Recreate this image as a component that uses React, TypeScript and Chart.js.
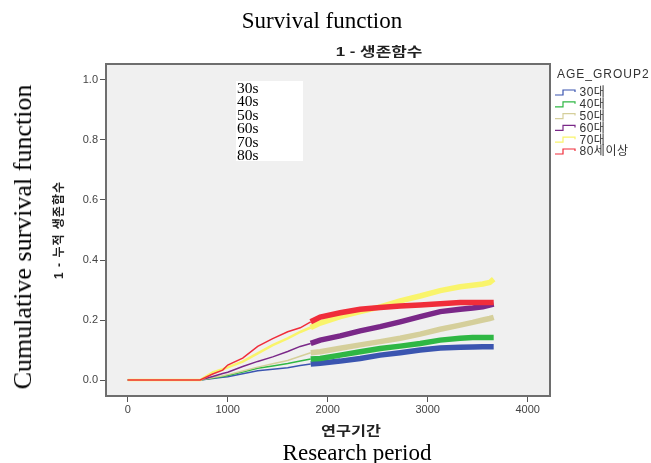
import React, { useEffect, useRef } from "react";
import { Chart, registerables } from "chart.js";

Chart.register(...registerables);

// Research period (days) at which the curves were read
const times = [0, 725, 850, 950, 1000, 1150, 1300, 1450, 1600, 1725, 1830, 1925, 2125, 2325, 2525, 2725, 2925, 3125, 3325, 3450, 3550, 3620, 3660];

// 1 - cumulative survival per age group
const age30 = [0, 0, 0.005, 0.009, 0.011, 0.021, 0.031, 0.036, 0.041, 0.048, 0.053, 0.056, 0.063, 0.072, 0.083, 0.091, 0.1, 0.107, 0.109, 0.11, 0.111, 0.111, 0.111];
const age40 = [0, 0, 0.007, 0.012, 0.015, 0.027, 0.039, 0.047, 0.055, 0.063, 0.07, 0.072, 0.083, 0.094, 0.105, 0.113, 0.122, 0.133, 0.139, 0.142, 0.142, 0.142, 0.142];
const age50 = [0, 0, 0.008, 0.014, 0.018, 0.03, 0.043, 0.054, 0.065, 0.079, 0.091, 0.094, 0.106, 0.117, 0.128, 0.139, 0.153, 0.169, 0.183, 0.192, 0.2, 0.205, 0.209];
const age60 = [0, 0, 0.012, 0.022, 0.026, 0.045, 0.062, 0.077, 0.095, 0.112, 0.122, 0.133, 0.147, 0.164, 0.178, 0.194, 0.211, 0.228, 0.236, 0.24, 0.244, 0.25, 0.253];
const age70 = [0, 0, 0.025, 0.036, 0.042, 0.061, 0.089, 0.116, 0.139, 0.16, 0.175, 0.19, 0.211, 0.228, 0.244, 0.264, 0.28, 0.298, 0.311, 0.316, 0.32, 0.325, 0.336];
const age80 = [0, 0, 0.02, 0.033, 0.05, 0.073, 0.112, 0.138, 0.161, 0.174, 0.194, 0.21, 0.224, 0.236, 0.242, 0.247, 0.25, 0.254, 0.258, 0.258, 0.258, 0.258, 0.258];

const groupLabels = ["30대", "40대", "50대", "60대", "70대", "80세이상"];
const groupColors = ["#3b55b0", "#2fb744", "#d5cf9b", "#7a2888", "#f9f46b", "#f02d3a"];
const seriesList = [age30, age40, age50, age60, age70, age80];

const xTicks = [0, 1000, 2000, 3000, 4000];
const yTicks = [0, 0.2, 0.4, 0.6, 0.8, 1.0];
const overlayLabels = ["30s", "40s", "50s", "60s", "70s", "80s"];

const censorStart = 1830;
const SANS = '"Liberation Sans", Arial, "Noto Sans CJK KR", sans-serif';
const SERIF = '"Liberation Serif", "Times New Roman", serif';

function stretchedText(ctx: any, text: string, x: number, y: number, sx: number) {
  ctx.save();
  ctx.translate(x, y);
  ctx.scale(sx, 1);
  ctx.fillText(text, 0, 0);
  ctx.restore();
}

const framePlugin = {
  id: "frame",
  beforeDraw(chart: any) {
    const { ctx, chartArea: a } = chart;
    ctx.save();
    ctx.fillStyle = "#f0f0f0";
    ctx.fillRect(a.left, a.top, a.right - a.left, a.bottom - a.top);
    ctx.restore();
  },
  afterDraw(chart: any) {
    const { ctx, chartArea: a } = chart;
    ctx.save();
    ctx.strokeStyle = "#6e6e6e";
    ctx.lineWidth = 2;
    ctx.strokeRect(a.left, a.top, a.right - a.left, a.bottom - a.top);

    ctx.fillStyle = "#222";
    ctx.textAlign = "center";
    ctx.textBaseline = "middle";
    ctx.font = `bold 13px ${SANS}`;
    stretchedText(ctx, "1 - 생존함수", 379, 52, 1.3);
    stretchedText(ctx, "연구기간", 351, 431, 1.25);

    ctx.save();
    ctx.translate(60, 230);
    ctx.rotate(-Math.PI / 2);
    ctx.font = `bold 12px ${SANS}`;
    (ctx as any).letterSpacing = "1px";
    ctx.fillText("1 - 누적 생존함수", 0, 0);
    ctx.restore();

    // legend
    ctx.textAlign = "left";
    ctx.fillStyle = "#333";
    ctx.font = `12px ${SANS}`;
    (ctx as any).letterSpacing = "1px";
    ctx.fillText("AGE_GROUP2", 557, 75);
    groupLabels.forEach((lab, i) => {
      const y = 93 + i * 11.8;
      ctx.strokeStyle = groupColors[i];
      ctx.lineWidth = 1.2;
      ctx.beginPath();
      ctx.moveTo(555, y + 2);
      ctx.lineTo(563, y + 2);
      ctx.lineTo(563, y - 3);
      ctx.lineTo(575, y - 3);
      ctx.lineTo(575, y - 1);
      ctx.stroke();
      ctx.fillStyle = "#333";
      (ctx as any).letterSpacing = "0.5px";
      ctx.font = `12px ${SANS}`;
      ctx.fillText(lab, 579.5, y);
    });
    ctx.restore();
  },
};

export default function App() {
  const ref = useRef<HTMLCanvasElement>(null);
  useEffect(() => {
    if (!ref.current) return;
    const datasets = seriesList.map((vals, i) => {
      const thin = i === 4 ? 2.5 : 1.5;
      return {
        label: groupLabels[i],
        data: times.map((t, j) => ({ x: t, y: vals[j] })),
        borderColor: groupColors[i],
        backgroundColor: groupColors[i],
        borderWidth: thin,
        pointRadius: 0,
        tension: 0,
        fill: false,
        order: 5 - i,
        segment: {
          borderWidth: (c: any) => (c.p0.parsed.x >= censorStart ? 5.5 : thin),
        },
      };
    });
    const tickFont = { family: SANS, size: 11 };
    const chart = new Chart(ref.current, {
      type: "line",
      data: { datasets },
      plugins: [framePlugin],
      options: {
        responsive: false,
        animation: false,
        events: [],
        layout: { padding: { top: 64, right: 101, left: 0, bottom: 0 } },
        plugins: { legend: { display: false }, tooltip: { enabled: false }, title: { display: false } },
        scales: {
          x: {
            type: "linear",
            min: -217,
            max: 4223,
            afterFit: (s: any) => { s.height = 67; },
            afterBuildTicks: (s: any) => { s.ticks = xTicks.map((v) => ({ value: v })); },
            border: { display: false },
            grid: { display: true, drawOnChartArea: false, drawTicks: true, tickLength: 6, color: "#555", tickColor: "#555" },
            ticks: { font: tickFont, color: "#444", padding: 1, maxRotation: 0, autoSkip: false, callback: (v: any) => String(v) },
          },
          y: {
            type: "linear",
            min: -0.0533,
            max: 1.0533,
            afterFit: (s: any) => { s.width = 106; },
            afterBuildTicks: (s: any) => { s.ticks = yTicks.map((v) => ({ value: v })); },
            border: { display: false },
            grid: { display: true, drawOnChartArea: false, drawTicks: true, tickLength: 6, color: "#555", tickColor: "#555" },
            ticks: { font: tickFont, color: "#444", padding: 2, autoSkip: false, callback: (v: any) => Number(v).toFixed(1) },
          },
        },
      },
    } as any);
    return () => chart.destroy();
  }, []);

  const abs: React.CSSProperties = { position: "absolute", fontFamily: SERIF, color: "#000", whiteSpace: "nowrap", lineHeight: 1 };
  return (
    <div style={{ position: "fixed", left: 0, top: 0, width: 651, height: 463, background: "#fff", overflow: "hidden" }}>
      <canvas ref={ref} width={651} height={463} style={{ position: "absolute", left: 0, top: 0, width: 651, height: 463 }} />
      <div style={{ ...abs, left: 322, top: 20, fontSize: 23, transform: "translate(-50%, -50%)" }}>Survival function</div>
      <div style={{ ...abs, left: 357, top: 452, fontSize: 23, transform: "translate(-50%, -50%)" }}>Research period</div>
      <div style={{ ...abs, left: 23, top: 237, fontSize: 26, transform: "translate(-50%, -50%) rotate(-90deg)" }}>Cumulative survival function</div>
      <div style={{ position: "absolute", left: 236, top: 81, width: 67, height: 80, background: "#fff", fontFamily: SERIF, fontSize: 15.5, lineHeight: "13.4px", paddingLeft: 1, boxSizing: "border-box" }}>
        {overlayLabels.map((l) => (
          <div key={l}>{l}</div>
        ))}
      </div>
    </div>
  );
}
